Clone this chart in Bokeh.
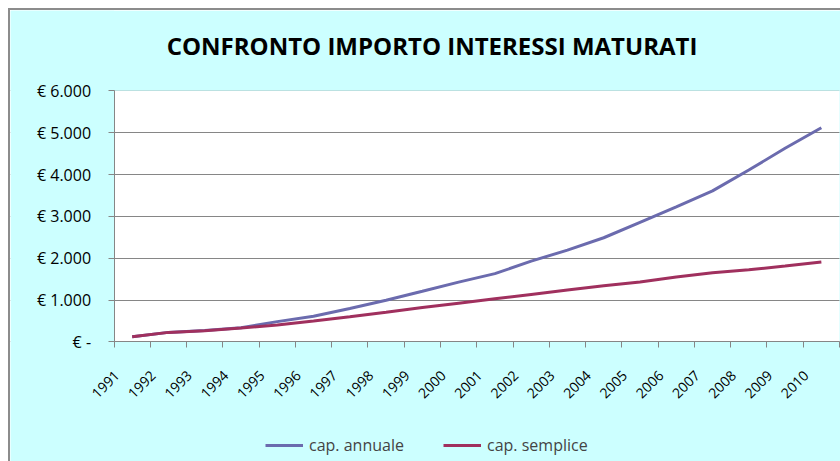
import math
from bokeh.plotting import figure
from bokeh.models import Range1d, FixedTicker, Legend, LegendItem, BoxAnnotation, Label
from bokeh.embed import file_html
from bokeh.resources import INLINE

years = ["1991", "1992", "1993", "1994", "1995", "1996", "1997", "1998", "1999", "2000",
         "2001", "2002", "2003", "2004", "2005", "2006", "2007", "2008", "2009", "2010"]
cap_annuale = [125, 229, 275, 340, 486, 615, 800, 995, 1210, 1430,
               1632, 1930, 2195, 2490, 2860, 3230, 3610, 4108, 4628, 5119]
cap_semplice = [125, 229, 270, 333, 405, 500, 600, 710, 822, 926,
                1031, 1135, 1239, 1343, 1432, 1552, 1656, 1723, 1817, 1913]
y_ticks = [0, 1000, 2000, 3000, 4000, 5000, 6000]
y_tick_labels = ["€ -", "€ 1.000", "€ 2.000", "€ 3.000", "€ 4.000", "€ 5.000", "€ 6.000"]
title_text = "CONFRONTO IMPORTO INTERESSI MATURATI"
series_names = ["cap. annuale", "cap. semplice"]

FONT = "Open Sans"
GRID = "#868686"
CYAN = "#CCFFFF"

# ---- layout in page pixels -------------------------------------------------
W, H = 832, 453                 # figure size (page margin 8px)
BORDER = 2
CANVAS_L, CANVAS_T = 8 + BORDER, 8 + BORDER
CANVAS_R, CANVAS_B = 8 + W, 8 + H
PLOT_L, PLOT_R, PLOT_T, PLOT_B = 113.3, 837.0, 90.0, 340.0
N = len(years)
Y_MAX = y_ticks[-1]
px_x = (PLOT_R - PLOT_L) / N
px_y = (PLOT_B - PLOT_T) / Y_MAX
x_start = -(PLOT_L - CANVAS_L) / px_x
x_end = N + (CANVAS_R - PLOT_R) / px_x
y_start = -(CANVAS_B - PLOT_B) / px_y
y_end = Y_MAX + (PLOT_T - CANVAS_T) / px_y


def to_x(page_x):
    return (page_x - PLOT_L) / px_x


def to_y(page_y):
    return (PLOT_B - page_y) / px_y


x_pos = [i + 0.5 for i in range(N)]
label_pos = [i + 0.08 for i in range(N)]
bounds = list(range(N + 1))

p = figure(width=W, height=H, output_backend="svg", toolbar_location=None,
           x_range=Range1d(x_start, x_end), y_range=Range1d(y_start, y_end),
           min_border_left=0, min_border_right=0, min_border_top=0, min_border_bottom=0)
p.title = None
p.border_fill_color = CYAN
p.background_fill_color = "white"
p.outline_line_color = None
p.styles = {"margin-left": "8px", "margin-top": "8px",
            "border-left": "2px solid #8c8c8c", "border-top": "2px solid #8c8c8c",
            "box-sizing": "border-box"}

p.xgrid.visible = False
p.ygrid.ticker = FixedTicker(ticks=y_ticks)
p.ygrid.grid_line_color = GRID
p.ygrid.grid_line_width = 1

# chart background around the white plot area
for kw in (dict(right=0), dict(left=N), dict(top=0), dict(bottom=Y_MAX)):
    p.add_layout(BoxAnnotation(fill_color=CYAN, fill_alpha=1.0, line_color=None,
                               level="underlay", **kw))

r1 = p.line(x_pos, cap_annuale, line_color="#6B6BAE", line_width=3)
r2 = p.line(x_pos, cap_semplice, line_color="#A0305E", line_width=3)

# y axis at x = 0
p.yaxis.fixed_location = 0
p.yaxis.bounds = (0, Y_MAX)
p.yaxis.ticker = FixedTicker(ticks=y_ticks, minor_ticks=[])
p.yaxis.major_label_overrides = {float(v): l for v, l in zip(y_ticks, y_tick_labels)}
p.yaxis.major_tick_out = 6
p.yaxis.major_tick_in = 0
p.yaxis.minor_tick_line_color = None
p.yaxis.axis_line_color = GRID
p.yaxis.major_tick_line_color = GRID
p.yaxis.major_label_standoff = 17
p.yaxis.major_label_text_font = FONT
p.yaxis.major_label_text_font_size = "16px"
p.yaxis.major_label_text_color = "black"

# x axis at value 0; labels offset like the spreadsheet, ticks at category boundaries
p.xaxis.fixed_location = 0
p.xaxis.bounds = (0, N)
p.xaxis.ticker = FixedTicker(ticks=label_pos, minor_ticks=bounds)
p.xaxis.major_label_overrides = {float(v): l for v, l in zip(label_pos, years)}
p.xaxis.major_tick_out = 0
p.xaxis.major_tick_in = 0
p.xaxis.minor_tick_out = 6
p.xaxis.minor_tick_in = 0
p.xaxis.minor_tick_line_color = GRID
p.xaxis.axis_line_color = GRID
p.xaxis.major_label_orientation = math.pi / 4
p.xaxis.major_label_standoff = 25
p.xaxis.major_label_text_font = FONT
p.xaxis.major_label_text_font_size = "14px"
p.xaxis.major_label_text_color = "black"

# title
p.add_layout(Label(x=to_x(430.5), y=to_y(45), text=title_text,
                   text_align="center", text_baseline="alphabetic",
                   text_font=FONT, text_font_size="24px", text_font_style="bold",
                   text_color="black"))

legend = Legend(items=[LegendItem(label=series_names[0], renderers=[r1]),
                       LegendItem(label=series_names[1], renderers=[r2])],
                orientation="horizontal", location=(255, 7),
                border_line_color=None, background_fill_alpha=0,
                label_text_font=FONT, label_text_font_size="16px",
                glyph_width=38, label_width=103, spacing=31, label_standoff=6, padding=4)
p.add_layout(legend, "center")

open("out.html", "w").write(file_html(p, INLINE))
